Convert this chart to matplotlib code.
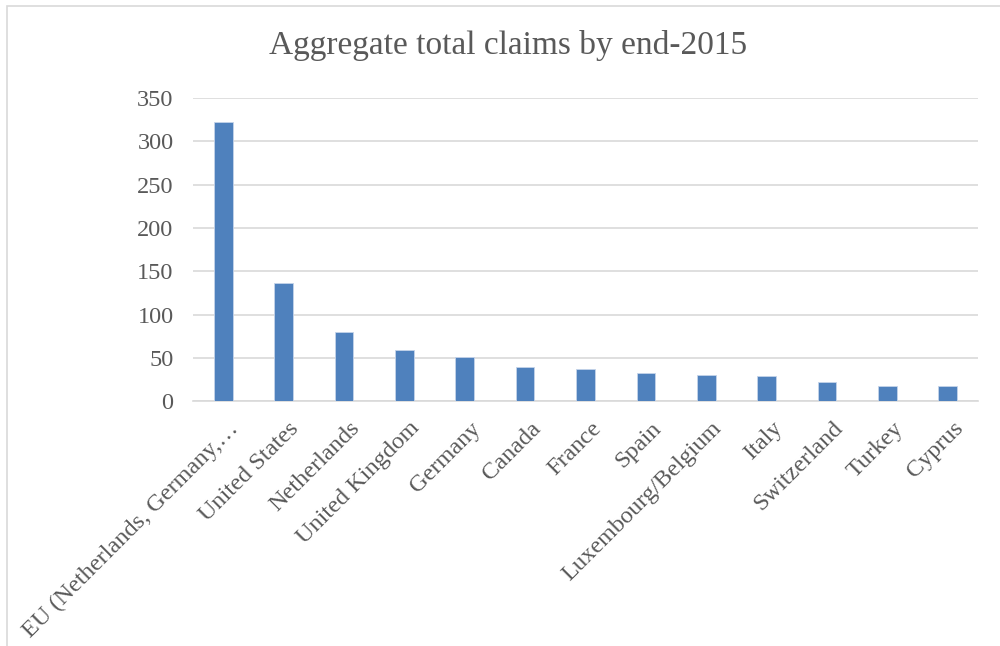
import matplotlib
matplotlib.use("Agg")
import matplotlib.pyplot as plt
import matplotlib.transforms as mtransforms
from matplotlib.patches import Rectangle

countries = ["EU (Netherlands, Germany,\u2026", "United States", "Netherlands",
             "United Kingdom", "Germany", "Canada", "France", "Spain",
             "Luxembourg/Belgium", "Italy", "Switzerland", "Turkey", "Cyprus"]
claims = [322, 137, 80, 59, 51, 39, 37, 33, 30, 29, 22, 18, 17]
yticks = [0, 50, 100, 150, 200, 250, 300, 350]

TEXT_COLOR = "#595959"
plt.rcParams['font.family'] = ['Liberation Serif', 'DejaVu Serif']

fig = plt.figure(figsize=(10, 6.46), dpi=100)
ax = fig.add_axes([0.193, 0.379, 0.785, 0.469])

x = range(len(countries))
ax.bar(x, claims, width=0.31, color="#4f81bd", edgecolor="#c5d4ea", linewidth=0.6, zorder=3)

ax.set_xlim(-0.5, len(countries) - 0.5)
ax.set_ylim(0, 350)
ax.set_yticks(yticks)
ax.set_yticklabels([str(t) for t in yticks], fontsize=17.5, color=TEXT_COLOR)
ax.set_xticks(list(x))
ax.set_xticklabels(countries, rotation=45, ha="right", rotation_mode="anchor",
                   fontsize=17.5, color=TEXT_COLOR)
ax.tick_params(axis="y", length=0, pad=14)
ax.tick_params(axis="x", length=0, pad=12)
# nudge the slanted labels a bit to the right
shift = mtransforms.ScaledTranslation(5 / 100, 0, fig.dpi_scale_trans)
for lbl in ax.get_xticklabels():
    lbl.set_transform(lbl.get_transform() + shift)
ax.grid(axis="y", color="#d9d9d9", linewidth=1.2, zorder=0)
for s in ["top", "right", "left"]:
    ax.spines[s].set_visible(False)
ax.spines["bottom"].set_color("#d9d9d9")
ax.spines["bottom"].set_linewidth(1.2)

fig.text(0.508, 0.93, "Aggregate total claims by end-2015", ha="center", va="center",
         fontsize=24, color=TEXT_COLOR)

# chart border
fig.patches.append(Rectangle((0.007, -0.01), 1.1, 1.0, transform=fig.transFigure,
                             fill=False, edgecolor="#d9d9d9", linewidth=1.2))

fig.savefig("out.png", dpi=100)
